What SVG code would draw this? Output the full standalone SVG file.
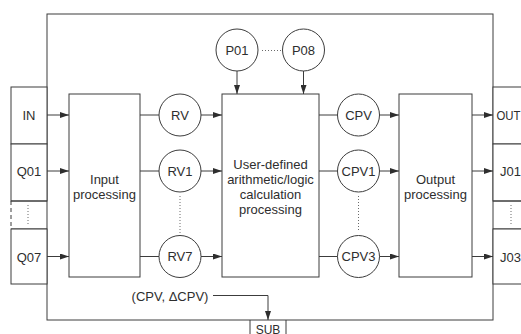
<svg xmlns="http://www.w3.org/2000/svg" width="521" height="334" viewBox="0 0 521 334">
  <style>
    .box { fill: #ffffff; stroke: #3c3c3c; stroke-width: 1; }
    .frame { fill: none; stroke: #3c3c3c; stroke-width: 1; }
    .node { fill: #ffffff; stroke: #3c3c3c; stroke-width: 1; }
    .wire { fill: none; stroke: #3c3c3c; stroke-width: 1; }
    .arrow { fill: none; stroke: #3c3c3c; stroke-width: 1; marker-end: url(#head); }
    .dots { fill: none; stroke: #6a6a6a; stroke-width: 1; stroke-dasharray: 1 2; }
    text { font-family: "Liberation Sans", Arial, sans-serif; font-size: 13px; fill: #2e2e2e; text-anchor: middle; }
  </style>
  <defs>
    <marker id="head" markerUnits="userSpaceOnUse" markerWidth="9" markerHeight="6" refX="9" refY="3" orient="auto">
      <path d="M0,0 L9,3 L0,6 Z" fill="#2e2e2e"/>
    </marker>
  </defs>

  <rect width="521" height="334" fill="#ffffff"/>

  <!-- outer block frame -->
  <g id="block">
    <rect class="frame" x="47" y="14" width="446" height="306"/>
  </g>

  <!-- input terminals -->
  <g id="term-in">
    <rect class="box" x="11" y="87" width="36" height="57"/>
    <text x="29" y="119.5">IN</text>
  </g>
  <g id="term-q01">
    <rect class="box" x="11" y="144" width="36" height="57"/>
    <text x="29" y="175.5">Q01</text>
  </g>
  <g id="term-qdots">
    <path class="wire" d="M11,201 H47 M11,229 H47"/>
    <path class="wire" d="M11,201 V229" stroke-dasharray="4 3"/>
    <path class="dots" d="M28,205 V225"/>
  </g>
  <g id="term-q07">
    <rect class="box" x="11" y="229" width="36" height="55"/>
    <text x="29" y="261.5">Q07</text>
  </g>

  <!-- output terminals -->
  <g id="term-out">
    <rect class="box" x="493" y="87" width="36" height="57"/>
    <text x="496.5" y="119.5" style="text-anchor: start" textLength="24" lengthAdjust="spacingAndGlyphs">OUT</text>
  </g>
  <g id="term-j01">
    <rect class="box" x="493" y="144" width="36" height="57"/>
    <text x="510.5" y="175.5">J01</text>
  </g>
  <g id="term-jdots">
    <path class="wire" d="M493,201 H529 M493,229 H529"/>
    <path class="dots" d="M511,205 V225"/>
  </g>
  <g id="term-j03">
    <rect class="box" x="493" y="229" width="36" height="55"/>
    <text x="510.5" y="261.5">J03</text>
  </g>

  <!-- processing stages -->
  <g id="input-processing">
    <rect class="box" x="69" y="94" width="71" height="183"/>
    <text x="104.5" y="183.5">Input</text>
    <text x="104.5" y="198.5">processing</text>
  </g>
  <g id="user-calc">
    <rect class="box" x="222" y="94" width="97" height="183"/>
    <text x="270.5" y="168.5">User-defined</text>
    <text x="270.5" y="183.5">arithmetic/logic</text>
    <text x="270.5" y="198.5">calculation</text>
    <text x="270.5" y="213.5">processing</text>
  </g>
  <g id="output-processing">
    <rect class="box" x="399" y="94" width="73" height="183"/>
    <text x="435.5" y="183.5">Output</text>
    <text x="435.5" y="198.5">processing</text>
  </g>

  <!-- parameters -->
  <g id="p01">
    <circle class="node" cx="237" cy="50" r="21"/>
    <text x="237" y="54.5">P01</text>
  </g>
  <g id="p08">
    <circle class="node" cx="303.5" cy="50" r="21"/>
    <text x="303.5" y="54.5">P08</text>
  </g>

  <!-- read values -->
  <g id="rv">
    <circle class="node" cx="180" cy="115" r="21"/>
    <text x="180" y="119.5">RV</text>
  </g>
  <g id="rv1">
    <circle class="node" cx="180" cy="171" r="21"/>
    <text x="180" y="175.5">RV1</text>
  </g>
  <g id="rv7">
    <circle class="node" cx="180" cy="256.5" r="21"/>
    <text x="180" y="261">RV7</text>
  </g>

  <!-- calculated values -->
  <g id="cpv">
    <circle class="node" cx="358.5" cy="115" r="21"/>
    <text x="358.5" y="119.5">CPV</text>
  </g>
  <g id="cpv1">
    <circle class="node" cx="358.5" cy="171" r="21"/>
    <text x="358.5" y="175.5">CPV1</text>
  </g>
  <g id="cpv3">
    <circle class="node" cx="358.5" cy="256.5" r="21"/>
    <text x="358.5" y="261">CPV3</text>
  </g>

  <!-- subroutine terminal -->
  <g id="sub">
    <path class="wire" d="M250,320 V340 M286,320 V340"/>
    <text x="268" y="333.5" style="font-size: 12px">SUB</text>
  </g>

  <!-- connectors -->
  <g id="connectors">
    <path class="arrow" d="M47,115 H69"/>
    <path class="arrow" d="M47,171 H69"/>
    <path class="arrow" d="M47,256.5 H69"/>

    <path class="wire" d="M140,115 H159"/>
    <path class="wire" d="M140,171 H159"/>
    <path class="wire" d="M140,256.5 H159"/>
    <path class="arrow" d="M201,115 H222"/>
    <path class="arrow" d="M201,171 H222"/>
    <path class="arrow" d="M201,256.5 H222"/>
    <path class="dots" d="M180,196 V234"/>

    <path class="arrow" d="M237,71 V94"/>
    <path class="arrow" d="M303.5,71 V94"/>
    <path class="dots" d="M262,50.5 H281"/>

    <path class="wire" d="M319,115 H337.5"/>
    <path class="wire" d="M319,171 H337.5"/>
    <path class="wire" d="M319,256.5 H337.5"/>
    <path class="arrow" d="M379.5,115 H399"/>
    <path class="arrow" d="M379.5,171 H399"/>
    <path class="arrow" d="M379.5,256.5 H399"/>
    <path class="dots" d="M358.5,196 V232"/>

    <path class="arrow" d="M472,115 H493"/>
    <path class="arrow" d="M472,171 H493"/>
    <path class="arrow" d="M472,256.5 H493"/>

    <text x="170" y="300.5">(CPV, ΔCPV)</text>
    <path class="arrow" d="M213,295.5 H268 V320"/>
  </g>
</svg>
